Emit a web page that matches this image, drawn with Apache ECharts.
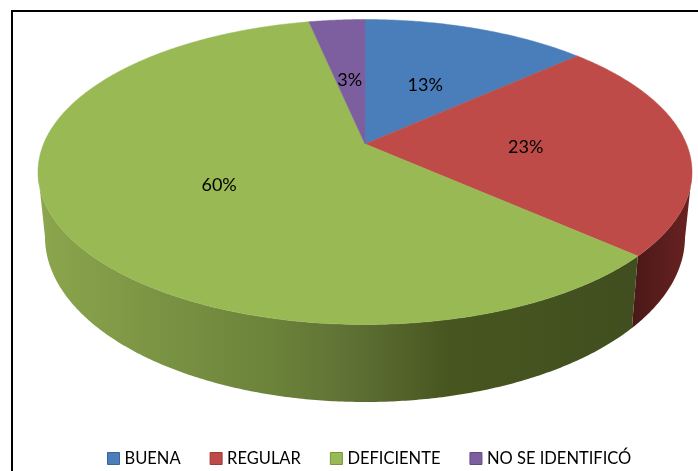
<!DOCTYPE html>
<html>
<head>
<meta charset="utf-8">
<title>Pie</title>
<style>
  html, body { margin: 0; padding: 0; background: #fff; }
  #chart { width: 698px; height: 471px; }
</style>
<script src="https://cdn.jsdelivr.net/npm/echarts@6/dist/echarts.min.js"></script>
</head>
<body>
<div id="chart"></div>
<script>
const categories = ['BUENA', 'REGULAR', 'DEFICIENTE', 'NO SE IDENTIFICÓ']
const values = [13.3, 23.3, 60, 3.3]

const topColors = ['#4a7ebb', '#be4b48', '#98b954', '#7d5fa0']
const legendBorders = ['#3a659a', '#9a3a38', '#7a9540', '#64497f']

// Tilted disc geometry: top face, bottom rim, how far the hub sits above the ellipse centre
const topFace = { cx: 365, cy: 172, rx: 327, ry: 152.5 }
const bottomRim = { cx: 365, cy: 237, rx: 320, ry: 165 }
const hubShift = -0.184

const total = values.reduce((a, b) => a + b, 0)

// Perspective map from the flat unit disc (angle clockwise from 12 o'clock) to the tilted disc
const project = (deg, r) => {
  const t = (deg * Math.PI) / 180
  const x = r * Math.sin(t)
  const y = -r * Math.cos(t)
  const w = 1 + hubShift * y
  return [(x * Math.sqrt(1 - hubShift * hubShift)) / w, (y + hubShift) / w]
}
const toPixel = (p, e) => [e.cx + e.rx * p[0], e.cy + e.ry * p[1]]

const wallFill = (index) => {
  const stops = {
    1: [[0, '#4a1818'], [1, '#6b2222']],
    2: [[0, '#8ca64d'], [0.2, '#7a9444'], [0.4, '#6b8239'], [0.525, '#5f7135'], [0.69, '#47561f'], [1, '#414f20']],
  }[index]
  if (!stops) return '#555'
  const range = index === 1 ? [632, 692] : [38, 632]
  return new echarts.graphic.LinearGradient(
    range[0], 0, range[1], 0,
    stops.map((s) => ({ offset: s[0], color: s[1] })),
    true
  )
}

const renderSlice = (index) => (params, api) => {
  const before = values.slice(0, index).reduce((a, b) => a + b, 0)
  const start = (before / total) * 360
  const end = ((before + api.value(0)) / total) * 360

  const arc = []
  for (let d = start; d < end; d += 0.5) arc.push(project(d, 1))
  arc.push(project(end, 1))

  const hub = toPixel(project(0, 0), topFace)
  const children = [
    {
      type: 'polygon',
      z2: 10,
      shape: { points: [hub].concat(arc.map((p) => toPixel(p, topFace))) },
      style: { fill: topColors[index], stroke: topColors[index], lineWidth: 0.5 },
    },
  ]

  const front = arc.filter((p) => p[1] >= 0)
  if (front.length > 1) {
    children.push({
      type: 'polygon',
      z2: 5,
      shape: {
        points: front
          .map((p) => toPixel(p, topFace))
          .concat(front.slice().reverse().map((p) => toPixel(p, bottomRim))),
      },
      style: { fill: wallFill(index) },
    })
  }

  const labelAt = toPixel(project((start + end) / 2, 0.5), topFace)
  children.push({
    type: 'text',
    z2: 20,
    x: labelAt[0],
    y: labelAt[1] + 3,
    style: {
      text: Math.round(api.value(0)) + '%',
      fill: '#000',
      font: '18px Lato, "Open Sans", sans-serif',
      align: 'center',
      verticalAlign: 'middle',
    },
  })
  return { type: 'group', children }
}

const chart = echarts.init(document.getElementById('chart'), null, { renderer: 'canvas' })

chart.setOption({
  animation: false,
  legend: {
    left: 107,
    top: 450,
    padding: 0,
    itemWidth: 12,
    itemHeight: 12,
    itemGap: 29,
    icon: 'rect',
    selectedMode: false,
    textStyle: { fontFamily: 'Lato, "Open Sans", sans-serif', fontSize: 16.5, color: '#000' },
    data: categories.map((name, i) => ({
      name,
      itemStyle: { color: topColors[i], borderColor: legendBorders[i], borderWidth: 1 },
    })),
  },
  graphic: [
    { type: 'line', shape: { x1: 11, y1: 11, x2: 698, y2: 11 }, style: { stroke: '#000', lineWidth: 2 } },
    { type: 'line', shape: { x1: 12, y1: 10, x2: 12, y2: 471 }, style: { stroke: '#000', lineWidth: 2 } },
  ],
  series: categories.map((name, i) => ({
    type: 'custom',
    name,
    coordinateSystem: 'none',
    silent: true,
    itemStyle: { color: topColors[i] },
    data: [[values[i]]],
    renderItem: renderSlice(i),
  })),
})
</script>
</body>
</html>
